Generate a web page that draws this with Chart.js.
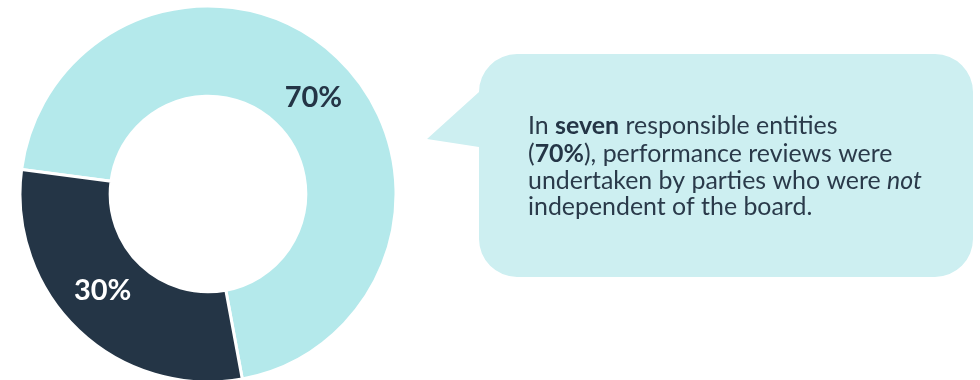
<!DOCTYPE html>
<html>
<head>
<meta charset="utf-8">
<script src="https://cdn.jsdelivr.net/npm/chart.js@4/dist/chart.umd.min.js"></script>
<style>
  html, body { margin: 0; padding: 0; background: #ffffff; }
  #wrap { width: 980px; height: 380px; position: relative; }
</style>
</head>
<body>
<div id="wrap"><canvas id="c" width="980" height="380"></canvas></div>
<script>
// Share of responsible entities by independence of the performance reviewer
const categories = ['Not independent of the board', 'Independent of the board'];
const shares = [70, 30];
const sliceColors = ['#b4e9eb', '#243546'];
const labelColors = ['#243546', '#ffffff'];

// Callout text, one array per line; each run is [text, style]
const calloutLines = [
  [['In ', 'normal'], ['seven', 'bold'], [' responsible entities', 'normal']],
  [['(', 'normal'], ['70%', 'bold'], ['), performance reviews were', 'normal']],
  [['undertaken by parties who were ', 'normal'], ['not', 'italic']],
  [['independent of the board.', 'normal']]
];

const FONT = 'Lato, "Open Sans", sans-serif';

// percentage labels placed in the middle of each ring segment, nudged a little clockwise
const sliceLabels = {
  id: 'sliceLabels',
  afterDatasetsDraw(chart) {
    const ctx = chart.ctx;
    const meta = chart.getDatasetMeta(0);
    ctx.save();
    ctx.font = 'bold 29px ' + FONT;
    ctx.textAlign = 'center';
    ctx.textBaseline = 'middle';
    meta.data.forEach((arc, i) => {
      const { x, y, startAngle, endAngle, innerRadius, outerRadius } =
        arc.getProps(['x', 'y', 'startAngle', 'endAngle', 'innerRadius', 'outerRadius'], true);
      const a = (startAngle + endAngle) / 2 + 4 * Math.PI / 180;
      const rr = (innerRadius + outerRadius) / 2;
      ctx.fillStyle = labelColors[i];
      ctx.fillText(shares[i] + '%', x + Math.cos(a) * rr, y + Math.sin(a) * rr);
    });
    ctx.restore();
  }
};

const callout = {
  id: 'callout',
  afterDraw(chart) {
    const ctx = chart.ctx;
    const L = 479, T = 54, R = 973, B = 277, r = 38;
    ctx.save();
    ctx.fillStyle = '#cdeff1';
    ctx.beginPath();
    ctx.moveTo(L + r, T);
    ctx.lineTo(R - r, T);
    ctx.arcTo(R, T, R, T + r, r);
    ctx.lineTo(R, B - r);
    ctx.arcTo(R, B, R - r, B, r);
    ctx.lineTo(L + r, B);
    ctx.arcTo(L, B, L, B - r, r);
    ctx.lineTo(L, 147);
    ctx.lineTo(427, 139);
    ctx.lineTo(L, 92);
    ctx.lineTo(L, T + r);
    ctx.arcTo(L, T, L + r, T, r);
    ctx.closePath();
    ctx.fill();

    // size the text so the longest line spans the same width as the block
    const fontFor = (style, size) =>
      (style === 'bold' ? 'bold ' : style === 'italic' ? 'italic ' : '') + size + 'px ' + FONT;
    const lineWidth = (line, size) => line.reduce((w, [t, s]) => {
      ctx.font = fontFor(s, size);
      return w + ctx.measureText(t).width;
    }, 0);
    const size = 20 * 394 / lineWidth(calloutLines[2], 20);

    const x0 = 528;
    const baselines = [134, 162, 189, 215];
    ctx.textBaseline = 'alphabetic';
    ctx.textAlign = 'left';
    calloutLines.forEach((line, li) => {
      let x = x0;
      line.forEach(([t, s]) => {
        ctx.font = fontFor(s, size);
        ctx.fillStyle = s === 'bold' ? '#243546' : '#2a3a4a';
        ctx.fillText(t, x, baselines[li]);
        x += ctx.measureText(t).width;
      });
    });
    ctx.restore();
  }
};

new Chart(document.getElementById('c'), {
  type: 'doughnut',
  data: {
    labels: categories,
    datasets: [{
      data: shares,
      backgroundColor: sliceColors,
      hoverBackgroundColor: sliceColors,
      borderColor: '#ffffff',
      hoverBorderColor: '#ffffff',
      borderWidth: 3,
      hoverBorderWidth: 3
    }]
  },
  options: {
    responsive: false,
    animation: false,
    events: [],
    rotation: -82.5,
    radius: 188,
    cutout: 96,
    layout: { padding: { left: 21, right: 585, top: 8, bottom: 0 } },
    plugins: {
      legend: { display: false },
      tooltip: { enabled: false }
    }
  },
  plugins: [sliceLabels, callout]
});
</script>
</body>
</html>
